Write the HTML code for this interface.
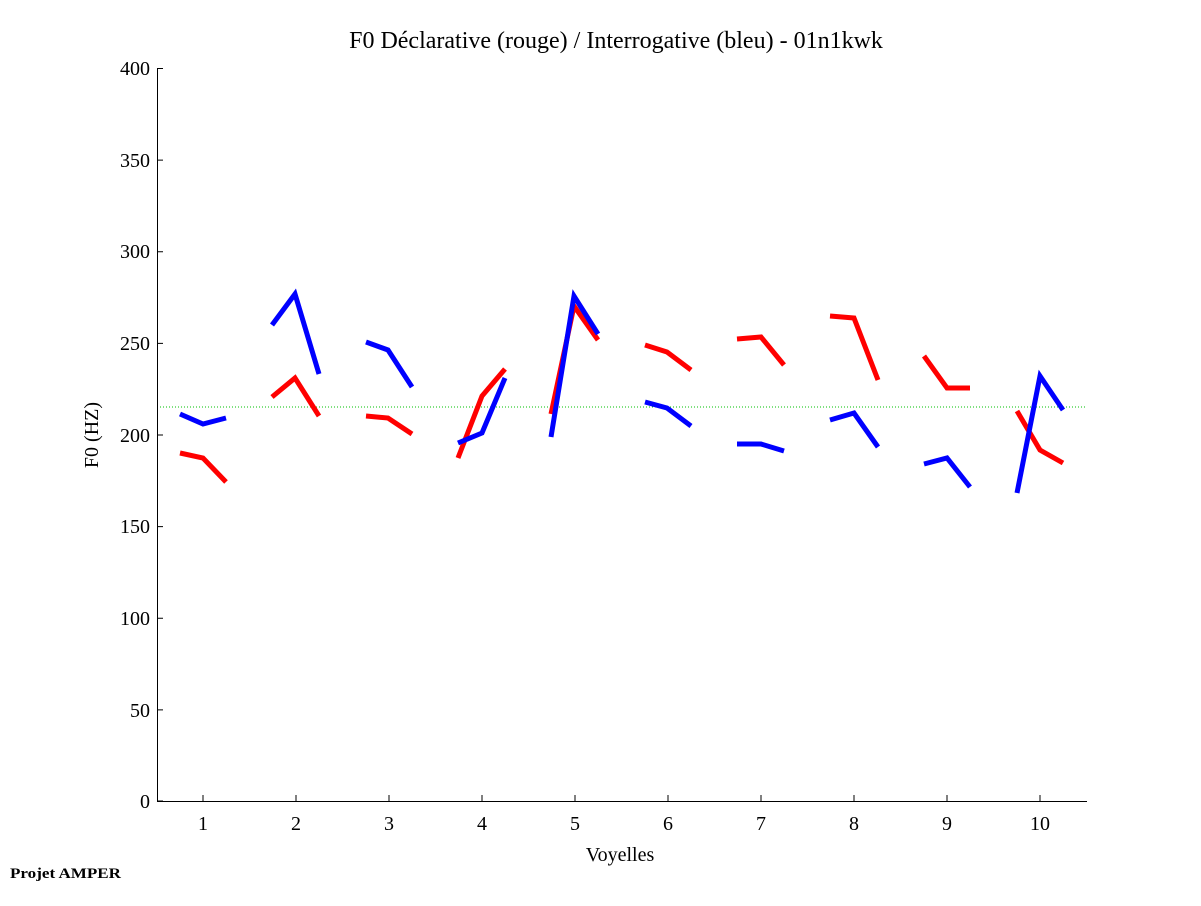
<!DOCTYPE html>
<html><head><meta charset="utf-8"><style>
body{margin:0;background:#fff;}
svg text{font-family:"Liberation Serif",serif;fill:#000;}
</style></head><body>
<svg width="1201" height="901" xmlns="http://www.w3.org/2000/svg">
<rect width="1201" height="901" fill="#fff"/>
<text x="616" y="48" font-size="24" text-anchor="middle">F0 Déclarative (rouge) / Interrogative (bleu) - 01n1kwk</text>
<line x1="157" y1="407" x2="1087" y2="407" stroke="#00c000" stroke-width="1" stroke-dasharray="1,2"/>
<g stroke="#000" stroke-width="1" fill="none">
<path d="M157.5,68 V801.5 H1087"/>
<path d="M157,68.5h6M157,160.1h6M157,251.7h6M157,343.4h6M157,435h6M157,526.6h6M157,618.2h6M157,709.9h6M157,801h6"/>
<path d="M203,801v-6M296,801v-6M389,801v-6M482,801v-6M575,801v-6M668,801v-6M761,801v-6M854,801v-6M947,801v-6M1040,801v-6"/>
</g>
<g font-size="20" text-anchor="end">
<text x="150" y="75">400</text><text x="150" y="167">350</text><text x="150" y="258">300</text><text x="150" y="350">250</text><text x="150" y="442">200</text><text x="150" y="533">150</text><text x="150" y="625">100</text><text x="150" y="717">50</text><text x="150" y="808">0</text>
</g>
<g font-size="20" text-anchor="middle">
<text x="203" y="830">1</text><text x="296" y="830">2</text><text x="389" y="830">3</text><text x="482" y="830">4</text><text x="575" y="830">5</text><text x="668" y="830">6</text><text x="761" y="830">7</text><text x="854" y="830">8</text><text x="947" y="830">9</text><text x="1040" y="830">10</text>
<text x="620" y="861">Voyelles</text>
</g>
<text x="98" y="435" font-size="20" text-anchor="middle" transform="rotate(-90 98 435)">F0 (HZ)</text>
<text x="10" y="878" font-size="15" font-weight="bold" textLength="111" lengthAdjust="spacingAndGlyphs">Projet AMPER</text>
<g stroke="#f00" stroke-width="5" fill="none">
<polyline points="180,453 203,458 226,482"/>
<polyline points="272,397 295,378 319,416"/>
<polyline points="366,416 388,418 412,434"/>
<polyline points="458,458 482,396 505,369"/>
<polyline points="551,414 574,306 598,340"/>
<polyline points="645,345 667,352 691,370"/>
<polyline points="737,339 761,337 784,365"/>
<polyline points="830,316 854,318 878,380"/>
<polyline points="924,356 947,388 970,388"/>
<polyline points="1017,411 1040,450 1063,463"/>
</g>
<g stroke="#00f" stroke-width="5" fill="none">
<polyline points="180,414 203,424 226,418"/>
<polyline points="272,325 295,294 319,374"/>
<polyline points="366,342 388,350 412,387"/>
<polyline points="458,443 482,433 505,378"/>
<polyline points="551,437 574,296 598,334"/>
<polyline points="645,402 667,408 691,426"/>
<polyline points="737,444 761,444 784,451"/>
<polyline points="830,420 854,413 878,447"/>
<polyline points="924,464 947,458 970,487"/>
<polyline points="1017,493 1040,376 1063,410"/>
</g>
</svg>
</body></html>
